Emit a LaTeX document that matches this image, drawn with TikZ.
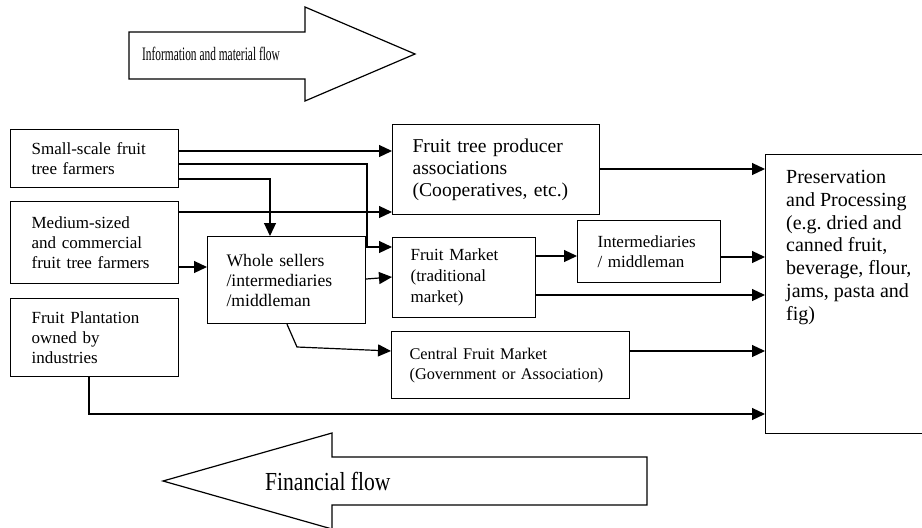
\documentclass[tikz,border=0pt]{standalone}
\usepackage{fontspec}
\setmainfont{Liberation Serif}
\usetikzlibrary{arrows.meta}
\newcommand{\nohyph}{\hyphenpenalty=10000\relax\exhyphenpenalty=10000\relax}
\tikzset{
  bx/.style={draw, line width=1.2pt, anchor=north west, align=left,
    font=\fontsize{17}{20}\selectfont\nohyph, inner ysep=0pt},
  arr/.style={line width=1.2pt, -{Triangle[length=13pt,width=12pt]}},
  flow/.style={draw, line width=1.2pt, fill=white}
}
\begin{document}
\begin{tikzpicture}[x=1pt,y=-1pt]
\clip (0,0) rectangle (922,528);
\fill[white] (0,0) rectangle (922,528);
% big flow arrows
\draw[flow] (129,32) -- (305,32) -- (305,7) -- (415,54) -- (305,101) -- (305,79) -- (129,79) -- cycle;
\node[anchor=west, inner sep=0pt] (infolabel) at (142,54) {\scalebox{0.6}[1]{\fontsize{19}{22}\selectfont Information and material flow}};
\draw[flow] (163,481) -- (332,433) -- (332,457) -- (647,457) -- (647,505) -- (332,505) -- (332,529) -- cycle;
\node[anchor=west, inner sep=0pt] (finlabel) at (265,481) {\scalebox{0.83}[1]{\fontsize{26}{30}\selectfont Financial flow}};
% boxes
\node[bx, minimum width=168, minimum height=58, text width=136, inner xsep=16] (small) at (10,129) {\hspace*{5pt}Small-scale fruit\\\hspace*{5pt}tree farmers};
\node[bx, minimum width=168, minimum height=82, text width=136, inner xsep=16] (medium) at (10,201) {\hspace*{5pt}Medium-sized\\\hspace*{5pt}and commercial\\\hspace*{5pt}fruit tree farmers};
\node[bx, minimum width=168, minimum height=78, text width=136, inner xsep=16] (plant) at (10,298) {\hspace*{5pt}Fruit Plantation\\\hspace*{5pt}owned by\\\hspace*{5pt}industries};
\node[bx, minimum width=158, minimum height=87, text width=130, inner xsep=14,
  font=\fontsize{17.6}{20}\selectfont\nohyph] (whole) at (207,236) {\hspace*{5pt}Whole sellers\\\hspace*{5pt}/intermediaries\\\hspace*{5pt}/middleman};
\node[bx, minimum width=207, minimum height=90, text width=177, inner xsep=15,
  font=\fontsize{19.6}{22}\selectfont\nohyph] (assoc) at (392,124) {\hspace*{5pt}Fruit tree producer\\\hspace*{5pt}associations\\\hspace*{5pt}(Cooperatives, etc.)};
\node[bx, minimum width=143, minimum height=80, text width=117, inner xsep=13,
  font=\fontsize{17}{21}\selectfont\nohyph] (market) at (392,237) {\hspace*{5pt}Fruit Market\\\hspace*{5pt}(traditional\\\hspace*{5pt}market)};
\node[bx, minimum width=143, minimum height=62, text width=123, inner xsep=10] (inter) at (577,220) {\hspace*{10pt}Intermediaries\\\hspace*{10pt}/ middleman};
\node[bx, minimum width=238, minimum height=67, text width=220, inner xsep=9,
  font=\fontsize{16.3}{20}\selectfont\nohyph] (central) at (391,331) {\hspace*{9pt}Central Fruit Market\\\hspace*{9pt}(Government or Association)};
\node[bx, minimum width=170, minimum height=279] (pres) at (765,154) {};
\node[anchor=north west, align=left, inner sep=0pt,
  font=\fontsize{20}{22.8}\selectfont] (prestext) at ([shift={(21,16)}]pres.north west) {Preservation\\and Processing\\(e.g.\ dried and\\canned fruit,\\beverage, flour,\\jams, pasta and\\fig)};
% connectors
\draw[arr] (small.east |- 0,151) -- (assoc.west |- 0,151);
\draw[arr] (small.east |- 0,164) -- (367,164) |- (market.west |- 0,247);
\draw[arr] (small.east |- 0,179) -| (270,0 |- whole.north);
\draw[arr] (medium.east |- 0,212) -- (assoc.west |- 0,212);
\draw[arr] (medium.east |- 0,267) -- (whole.west |- 0,267);
\draw[arr] (whole.east |- 0,279) -- (market.west |- 0,277);
\draw[arr] (287,0 |- whole.south) -- (297,347) -- (central.west |- 0,351);
\draw[arr] (market.east |- 0,256) -- (inter.west |- 0,256);
\draw[arr] (inter.east |- 0,257) -- (pres.west |- 0,257);
\draw[arr] (market.east |- 0,295) -- (pres.west |- 0,295);
\draw[arr] (central.east |- 0,351) -- (pres.west |- 0,351);
\draw[arr] (89,0 |- plant.south) |- (pres.west |- 0,414);
\draw[arr] (assoc.east |- 0,169) -- (pres.west |- 0,169);
\end{tikzpicture}
\end{document}
